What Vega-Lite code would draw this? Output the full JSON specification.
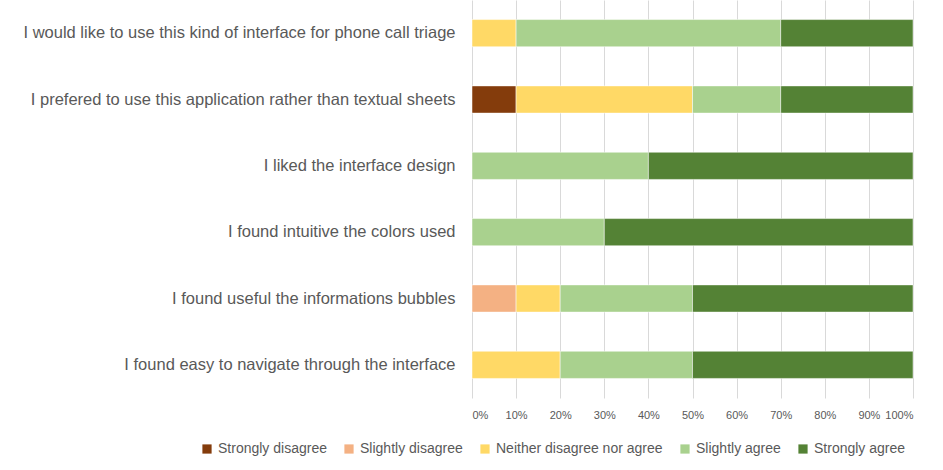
{
  "$schema": "https://vega.github.io/schema/vega-lite/v6.json",
  "autosize": "none",
  "padding": {"left": 472, "top": 0, "right": 30, "bottom": 72},
  "width": 441,
  "height": 398,
  "background": "white",
  "config": {"view": {"stroke": null}, "font": "Liberation Sans"},
  "data": {"values": [
    {"q": "I would like to use this kind of interface for phone call triage", "resp": "Neither disagree nor agree", "rank": 3, "v": 0.1},
    {"q": "I would like to use this kind of interface for phone call triage", "resp": "Slightly agree", "rank": 4, "v": 0.6},
    {"q": "I would like to use this kind of interface for phone call triage", "resp": "Strongly agree", "rank": 5, "v": 0.3},
    {"q": "I prefered to use this application rather than textual sheets", "resp": "Strongly disagree", "rank": 1, "v": 0.1},
    {"q": "I prefered to use this application rather than textual sheets", "resp": "Neither disagree nor agree", "rank": 3, "v": 0.4},
    {"q": "I prefered to use this application rather than textual sheets", "resp": "Slightly agree", "rank": 4, "v": 0.2},
    {"q": "I prefered to use this application rather than textual sheets", "resp": "Strongly agree", "rank": 5, "v": 0.3},
    {"q": "I liked the interface design", "resp": "Slightly agree", "rank": 4, "v": 0.4},
    {"q": "I liked the interface design", "resp": "Strongly agree", "rank": 5, "v": 0.6},
    {"q": "I found intuitive the colors used", "resp": "Slightly agree", "rank": 4, "v": 0.3},
    {"q": "I found intuitive the colors used", "resp": "Strongly agree", "rank": 5, "v": 0.7},
    {"q": "I found useful the informations bubbles\u00a0", "resp": "Slightly disagree", "rank": 2, "v": 0.1},
    {"q": "I found useful the informations bubbles\u00a0", "resp": "Neither disagree nor agree", "rank": 3, "v": 0.1},
    {"q": "I found useful the informations bubbles\u00a0", "resp": "Slightly agree", "rank": 4, "v": 0.3},
    {"q": "I found useful the informations bubbles\u00a0", "resp": "Strongly agree", "rank": 5, "v": 0.5},
    {"q": "I found easy to navigate through the interface", "resp": "Neither disagree nor agree", "rank": 3, "v": 0.2},
    {"q": "I found easy to navigate through the interface", "resp": "Slightly agree", "rank": 4, "v": 0.3},
    {"q": "I found easy to navigate through the interface", "resp": "Strongly agree", "rank": 5, "v": 0.5}
  ]},
  "mark": {"type": "bar", "stroke": "white", "strokeWidth": 0.5},
  "encoding": {
    "y": {
      "field": "q", "type": "nominal", "sort": null,
      "scale": {"paddingInner": 0.59, "paddingOuter": 0.295},
      "axis": {"title": null, "domain": false, "ticks": false, "grid": false, "labelFontSize": 16.5, "labelColor": "#595959", "labelPadding": 17, "labelLimit": 600}
    },
    "x": {
      "field": "v", "type": "quantitative", "stack": "zero",
      "scale": {"domain": [0, 1], "nice": false},
      "axis": {"title": null, "format": "%", "values": [0, 0.1, 0.2, 0.3, 0.4, 0.5, 0.6, 0.7, 0.8, 0.9, 1], "domain": false, "ticks": false, "gridColor": "#D9D9D9", "labelColor": "#595959", "labelFontSize": 11, "labelPadding": 11}
    },
    "color": {
      "field": "resp", "type": "nominal",
      "scale": {
        "domain": ["Strongly disagree", "Slightly disagree", "Neither disagree nor agree", "Slightly agree", "Strongly agree"],
        "range": ["#843C0C", "#F4B183", "#FFD966", "#A9D18E", "#548235"]
      },
      "legend": {"title": null, "orient": "none", "direction": "horizontal", "legendX": -272, "legendY": 442, "symbolType": "square", "symbolSize": 85, "symbolStrokeWidth": 0, "labelFontSize": 14, "labelLimit": 400, "labelColor": "#595959", "columnPadding": 15, "labelOffset": 4}
    },
    "order": {"field": "rank", "type": "quantitative"}
  }
}
